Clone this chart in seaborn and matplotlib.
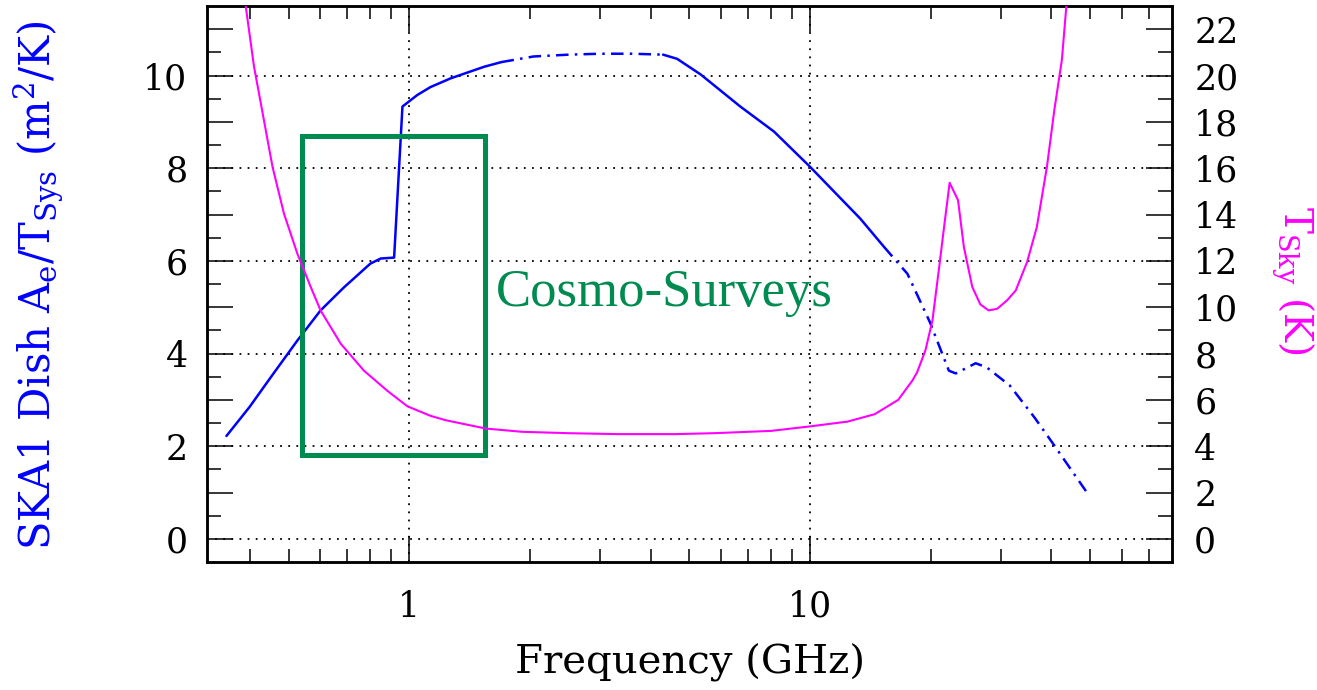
import matplotlib
matplotlib.use("Agg")
import matplotlib.pyplot as plt
import seaborn as sns
import pandas as pd
from matplotlib.ticker import FixedLocator, FuncFormatter, NullFormatter

# SKA1 dish sensitivity A_e/T_sys (m^2/K) versus frequency (GHz), by segment
band_lo_freq = [0.35, 0.40, 0.45, 0.526, 0.601, 0.688, 0.80, 0.849, 0.917, 0.962, 1.048, 1.13, 1.27, 1.54, 1.70]
band_lo_sens = [2.22, 2.85, 3.47, 4.28, 4.93, 5.43, 5.94, 6.05, 6.07, 9.33, 9.58, 9.75, 9.94, 10.19, 10.29]
band_mid_freq = [1.70, 2.04, 2.5, 3.0, 3.6, 4.3]
band_mid_sens = [10.29, 10.41, 10.45, 10.47, 10.47, 10.45]
band5_freq = [4.3, 4.66, 5.34, 6.7, 8.13, 10.0, 13.35, 15.3]
band5_sens = [10.45, 10.36, 10.02, 9.33, 8.79, 8.03, 6.91, 6.30]
band_hi_freq = [15.3, 17.5, 19.9, 22.2, 23.1, 25.9, 27.6, 31.5, 36.3, 40.5, 48.8]
band_hi_sens = [6.30, 5.72, 4.68, 3.63, 3.57, 3.79, 3.70, 3.31, 2.62, 2.04, 1.03]

# Sky brightness temperature (K)
tsky_freq = [0.386, 0.391, 0.410, 0.434, 0.456, 0.487, 0.526, 0.568, 0.601, 0.675, 0.771, 0.882,
             0.990, 1.13, 1.233, 1.553, 1.913, 2.5, 3.32, 4.61, 5.76, 8.0, 9.96, 12.4, 14.5,
             16.6, 18.0, 18.5, 19.4, 20.2, 21.0, 21.6, 22.3, 23.4, 24.2, 25.4, 26.6, 27.9, 29.3,
             31.0, 32.6, 34.8, 36.8, 39.0, 40.7, 42.5, 43.6, 43.9]
tsky_K = [23.6, 22.99, 20.39, 18.08, 16.06, 14.04, 12.31, 10.87, 9.86, 8.42, 7.26, 6.39,
          5.72, 5.31, 5.12, 4.76, 4.62, 4.56, 4.52, 4.52, 4.56, 4.66, 4.85, 5.06, 5.38,
          6.0, 6.83, 7.19, 8.13, 9.42, 11.73, 13.46, 15.37, 14.62, 12.6, 10.87, 10.12, 9.86, 9.93,
          10.29, 10.72, 11.95, 13.46, 16.06, 18.52, 20.68, 22.99, 23.6]

# Frequency / sensitivity window of the cosmology surveys
survey_freq = [0.54, 1.55]
survey_sens = [1.8, 8.7]

# Axis ticks
x_major = [1, 10]
x_minor = [0.4, 0.5, 0.6, 0.7, 0.8, 0.9, 2, 3, 4, 5, 6, 7, 8, 9, 20, 30, 40, 50, 60, 70]
left_major = list(range(0, 12))
left_minor = [v + 0.5 for v in range(0, 11)]
right_major = list(range(0, 23, 2))
right_minor = list(range(1, 23, 2))
grid_y = [0, 2, 4, 6, 8, 10]

BLUE = "#0000FF"
MAGENTA = "#FF00FF"
GREEN = "#008C50"
DASHDOT = (0, (5, 2.5, 1, 2.5))

sns.set_theme(style="ticks")
plt.rcParams["font.family"] = ["DejaVu Serif"]
plt.rcParams["mathtext.fontset"] = "dejavuserif"
plt.rcParams["text.color"] = "black"

W, H = 1317, 690
fig = plt.figure(figsize=(W / 100, H / 100), dpi=100)
ax = fig.add_axes([207 / W, 1 - 562 / H, (1172 - 207) / W, (562 - 6) / H])
ax.set_xscale("log")
ax.set_xlim(0.313, 80)
ax.set_ylim(-0.5, 11.5)

# dotted reference grid
for gy in grid_y:
    ax.axhline(gy, color="black", lw=1.3, ls=(0, (1, 3.5)), zorder=1)
for gx in x_major:
    ax.axvline(gx, color="black", lw=1.3, ls=(0, (1, 3.5)), zorder=1)

segments = [
    (band_lo_freq, band_lo_sens, "-"),
    (band_mid_freq, band_mid_sens, DASHDOT),
    (band5_freq, band5_sens, "-"),
    (band_hi_freq, band_hi_sens, DASHDOT),
]
for fx, sy, style in segments:
    df = pd.DataFrame({"freq": fx, "sens": sy})
    sns.lineplot(data=df, x="freq", y="sens", ax=ax, color=BLUE, lw=1.8,
                 linestyle=style, estimator=None, sort=False, zorder=3)

# survey box and label
ax.add_patch(plt.Rectangle((survey_freq[0], survey_sens[0]),
                           survey_freq[1] - survey_freq[0], survey_sens[1] - survey_sens[0],
                           fill=False, ec=GREEN, lw=3.6, zorder=4))
ax.text(1.65, 5.3, "Cosmo-Surveys", color=GREEN, fontsize=38,
        family="Liberation Serif", ha="left", va="center", zorder=5)

ax2 = ax.twinx()
ax2.set_ylim(-1, 23)
df_t = pd.DataFrame({"freq": tsky_freq, "tsky": tsky_K})
sns.lineplot(data=df_t, x="freq", y="tsky", ax=ax2, color=MAGENTA, lw=1.5,
             estimator=None, sort=False, zorder=3)

ax.set_xlabel("")
ax.set_ylabel("")
ax2.set_xlabel("")
ax2.set_ylabel("")

# ticks
ax.xaxis.set_major_locator(FixedLocator(x_major))
ax.xaxis.set_minor_locator(FixedLocator(x_minor))
ax.xaxis.set_major_formatter(FuncFormatter(lambda v, p: f"{v:g}"))
ax.xaxis.set_minor_formatter(NullFormatter())
ax.yaxis.set_major_locator(FixedLocator(left_major))
ax.yaxis.set_minor_locator(FixedLocator(left_minor))
ax.yaxis.set_major_formatter(FuncFormatter(lambda v, p: f"{int(v)}" if int(v) % 2 == 0 and v <= 10 else ""))
ax2.yaxis.set_major_locator(FixedLocator(right_major))
ax2.yaxis.set_minor_locator(FixedLocator(right_minor))
ax2.yaxis.set_major_formatter(FuncFormatter(lambda v, p: f"{int(v)}"))

ax.tick_params(axis="x", which="both", direction="in", top=True, bottom=True,
               colors="black", labelcolor="black")
ax.tick_params(axis="x", which="major", length=18.5, width=1.1, pad=20, labelsize=25)
ax.tick_params(axis="x", which="minor", length=9.5, width=1.1)
ax.tick_params(axis="y", which="both", direction="in", left=True, right=False,
               colors="black", labelcolor="black")
ax.tick_params(axis="y", which="major", length=19, width=1.1, pad=14, labelsize=25)
ax.tick_params(axis="y", which="minor", length=10, width=1.1)
ax2.tick_params(axis="y", which="both", direction="in", right=True, left=False,
                colors="black", labelcolor="black")
ax2.tick_params(axis="y", which="major", length=19, width=1.1, pad=16, labelsize=25)
ax2.tick_params(axis="y", which="minor", length=10, width=1.1)

for a in (ax, ax2):
    for s in a.spines.values():
        s.set_linewidth(1.8)
        s.set_color("black")

# axis titles
fig.text(690 / W, 1 - 663 / H, "Frequency (GHz)", ha="center", va="center",
         fontsize=29, color="black")
fig.text(38 / W, 1 - 285 / H, r"SKA1 Dish A$_\mathrm{e}$/T$_\mathrm{Sys}$ (m$^2$/K)",
         color=BLUE, rotation=90, ha="center", va="center", fontsize=30)
fig.text(1293 / W, 1 - 280 / H, r"T$_\mathrm{Sky}$ (K)", color=MAGENTA,
         rotation=-90, ha="center", va="center", fontsize=28)

fig.savefig("out.png", dpi=100, facecolor="white")
